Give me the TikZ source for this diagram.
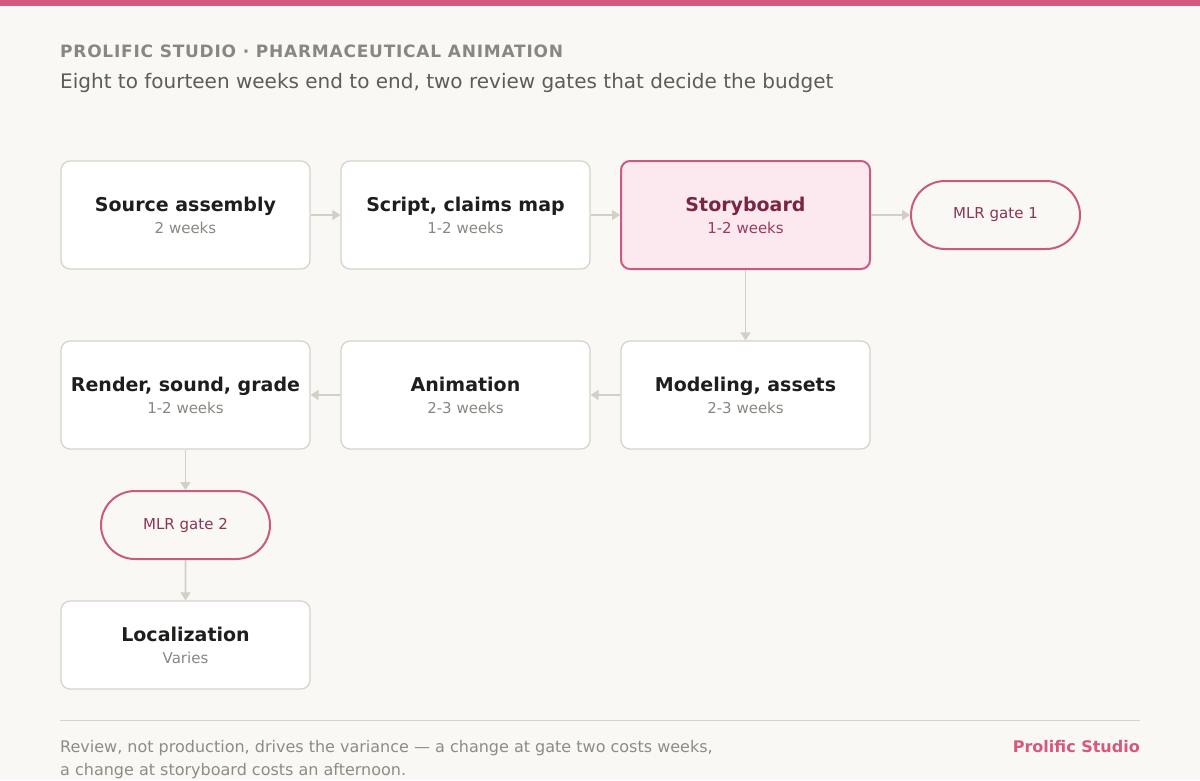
\documentclass[tikz,border=0pt]{standalone}
\usepackage{fontspec}
\setmainfont{DejaVu Sans}
\usetikzlibrary{arrows.meta,shapes.misc}
\definecolor{bg}{HTML}{FAF8F4}
\definecolor{pink}{HTML}{D4587F}
\definecolor{pinkline}{HTML}{C95A80}
\definecolor{pinkfill}{HTML}{FBE9EF}
\definecolor{boxline}{HTML}{D6D3C8}
\definecolor{arrowc}{HTML}{D2D0C6}
\definecolor{titlec}{HTML}{1F1E1C}
\definecolor{subc}{HTML}{8A8782}
\definecolor{headc}{HTML}{8A8782}
\definecolor{sub2c}{HTML}{5F5C58}
\definecolor{sbtitle}{HTML}{7A2643}
\definecolor{sbsub}{HTML}{9A3A60}
\definecolor{gatec}{HTML}{8A3558}
\definecolor{footc}{HTML}{8F8C87}
\begin{document}
\begin{tikzpicture}[x=1pt,y=-1pt,
  stage/.style={draw=boxline,line width=1.3pt,fill=white,rounded corners=9pt,minimum width=249pt,minimum height=108pt,inner sep=0pt,align=center,text=titlec,font=\fontsize{15}{22}\selectfont},
  hot/.style={draw=pinkline,line width=2pt,fill=pinkfill,text=sbtitle},
  gate/.style={draw=pinkline,line width=2pt,fill=bg,rounded rectangle,minimum width=169pt,minimum height=68pt,inner sep=0pt,text=gatec,font=\fontsize{15}{17}\selectfont},
  flow/.style={draw=arrowc,line width=1.7pt,-{Triangle[width=10pt,length=8pt]}}
]
\useasboundingbox (0,0) rectangle (1200,780);
\fill[bg] (0,0) rectangle (1200,780);
\fill[pink] (0,0) rectangle (1200,6);
\node[anchor=base west,inner sep=0pt,text=headc,font=\fontsize{17}{19}\selectfont\bfseries\addfontfeatures{LetterSpace=4.5}] (head) at (60,57) {PROLIFIC STUDIO · PHARMACEUTICAL ANIMATION};
\node[anchor=base west,inner sep=0pt,text=sub2c,font=\fontsize{20}{23}\selectfont] (subhead) at (60,88) {Eight to fourteen weeks end to end, two review gates that decide the budget};

\newcommand{\stg}[2]{{\fontsize{19}{22}\selectfont\bfseries #1}\\{\color{subc}#2}}
\node[stage] (src) at (185.5,215) {\stg{Source assembly}{2 weeks}};
\node[stage] (script) at (465.5,215) {\stg{Script, claims map}{1-2 weeks}};
\node[stage,hot] (story) at (745.5,215) {{\fontsize{19}{22}\selectfont\bfseries Storyboard}\\{\color{sbsub}1-2 weeks}};
\node[gate] (g1) at (995.5,215) {MLR gate 1};
\node[stage] (render) at (185.5,395) {\stg{Render, sound, grade}{1-2 weeks}};
\node[stage] (anim) at (465.5,395) {\stg{Animation}{2-3 weeks}};
\node[stage] (model) at (745.5,395) {\stg{Modeling, assets}{2-3 weeks}};
\node[gate] (g2) at (185.5,525) {MLR gate 2};
\node[stage,minimum height=88pt] (loc) at (185.5,645) {\stg{Localization}{Varies}};

\draw[flow] (src) -- (script);
\draw[flow] (script) -- (story);
\draw[flow] (story) -- (g1);
\draw[flow] (story) -- (model);
\draw[flow] (model) -- (anim);
\draw[flow] (anim) -- (render);
\draw[flow] (render) -- (g2);
\draw[flow] (g2) -- (loc);

\coordinate (fl) at (60,720);
\coordinate (fr) at (1140,720);
\draw[draw=boxline,line width=1pt] (fl) -- (fr);
\node[anchor=base west,inner sep=0pt,text=footc,font=\fontsize{16}{19}\selectfont] (foot1) at (60,752) {Review, not production, drives the variance — a change at gate two costs weeks,};
\node[anchor=base west,inner sep=0pt,text=footc,font=\fontsize{16}{19}\selectfont] (foot2) at (60,775) {a change at storyboard costs an afternoon.};
\node[anchor=base east,inner sep=0pt,text=pink,font=\fontsize{16}{19}\selectfont\bfseries] (brand) at (1140,752) {Prolific Studio};
\end{tikzpicture}
\end{document}
